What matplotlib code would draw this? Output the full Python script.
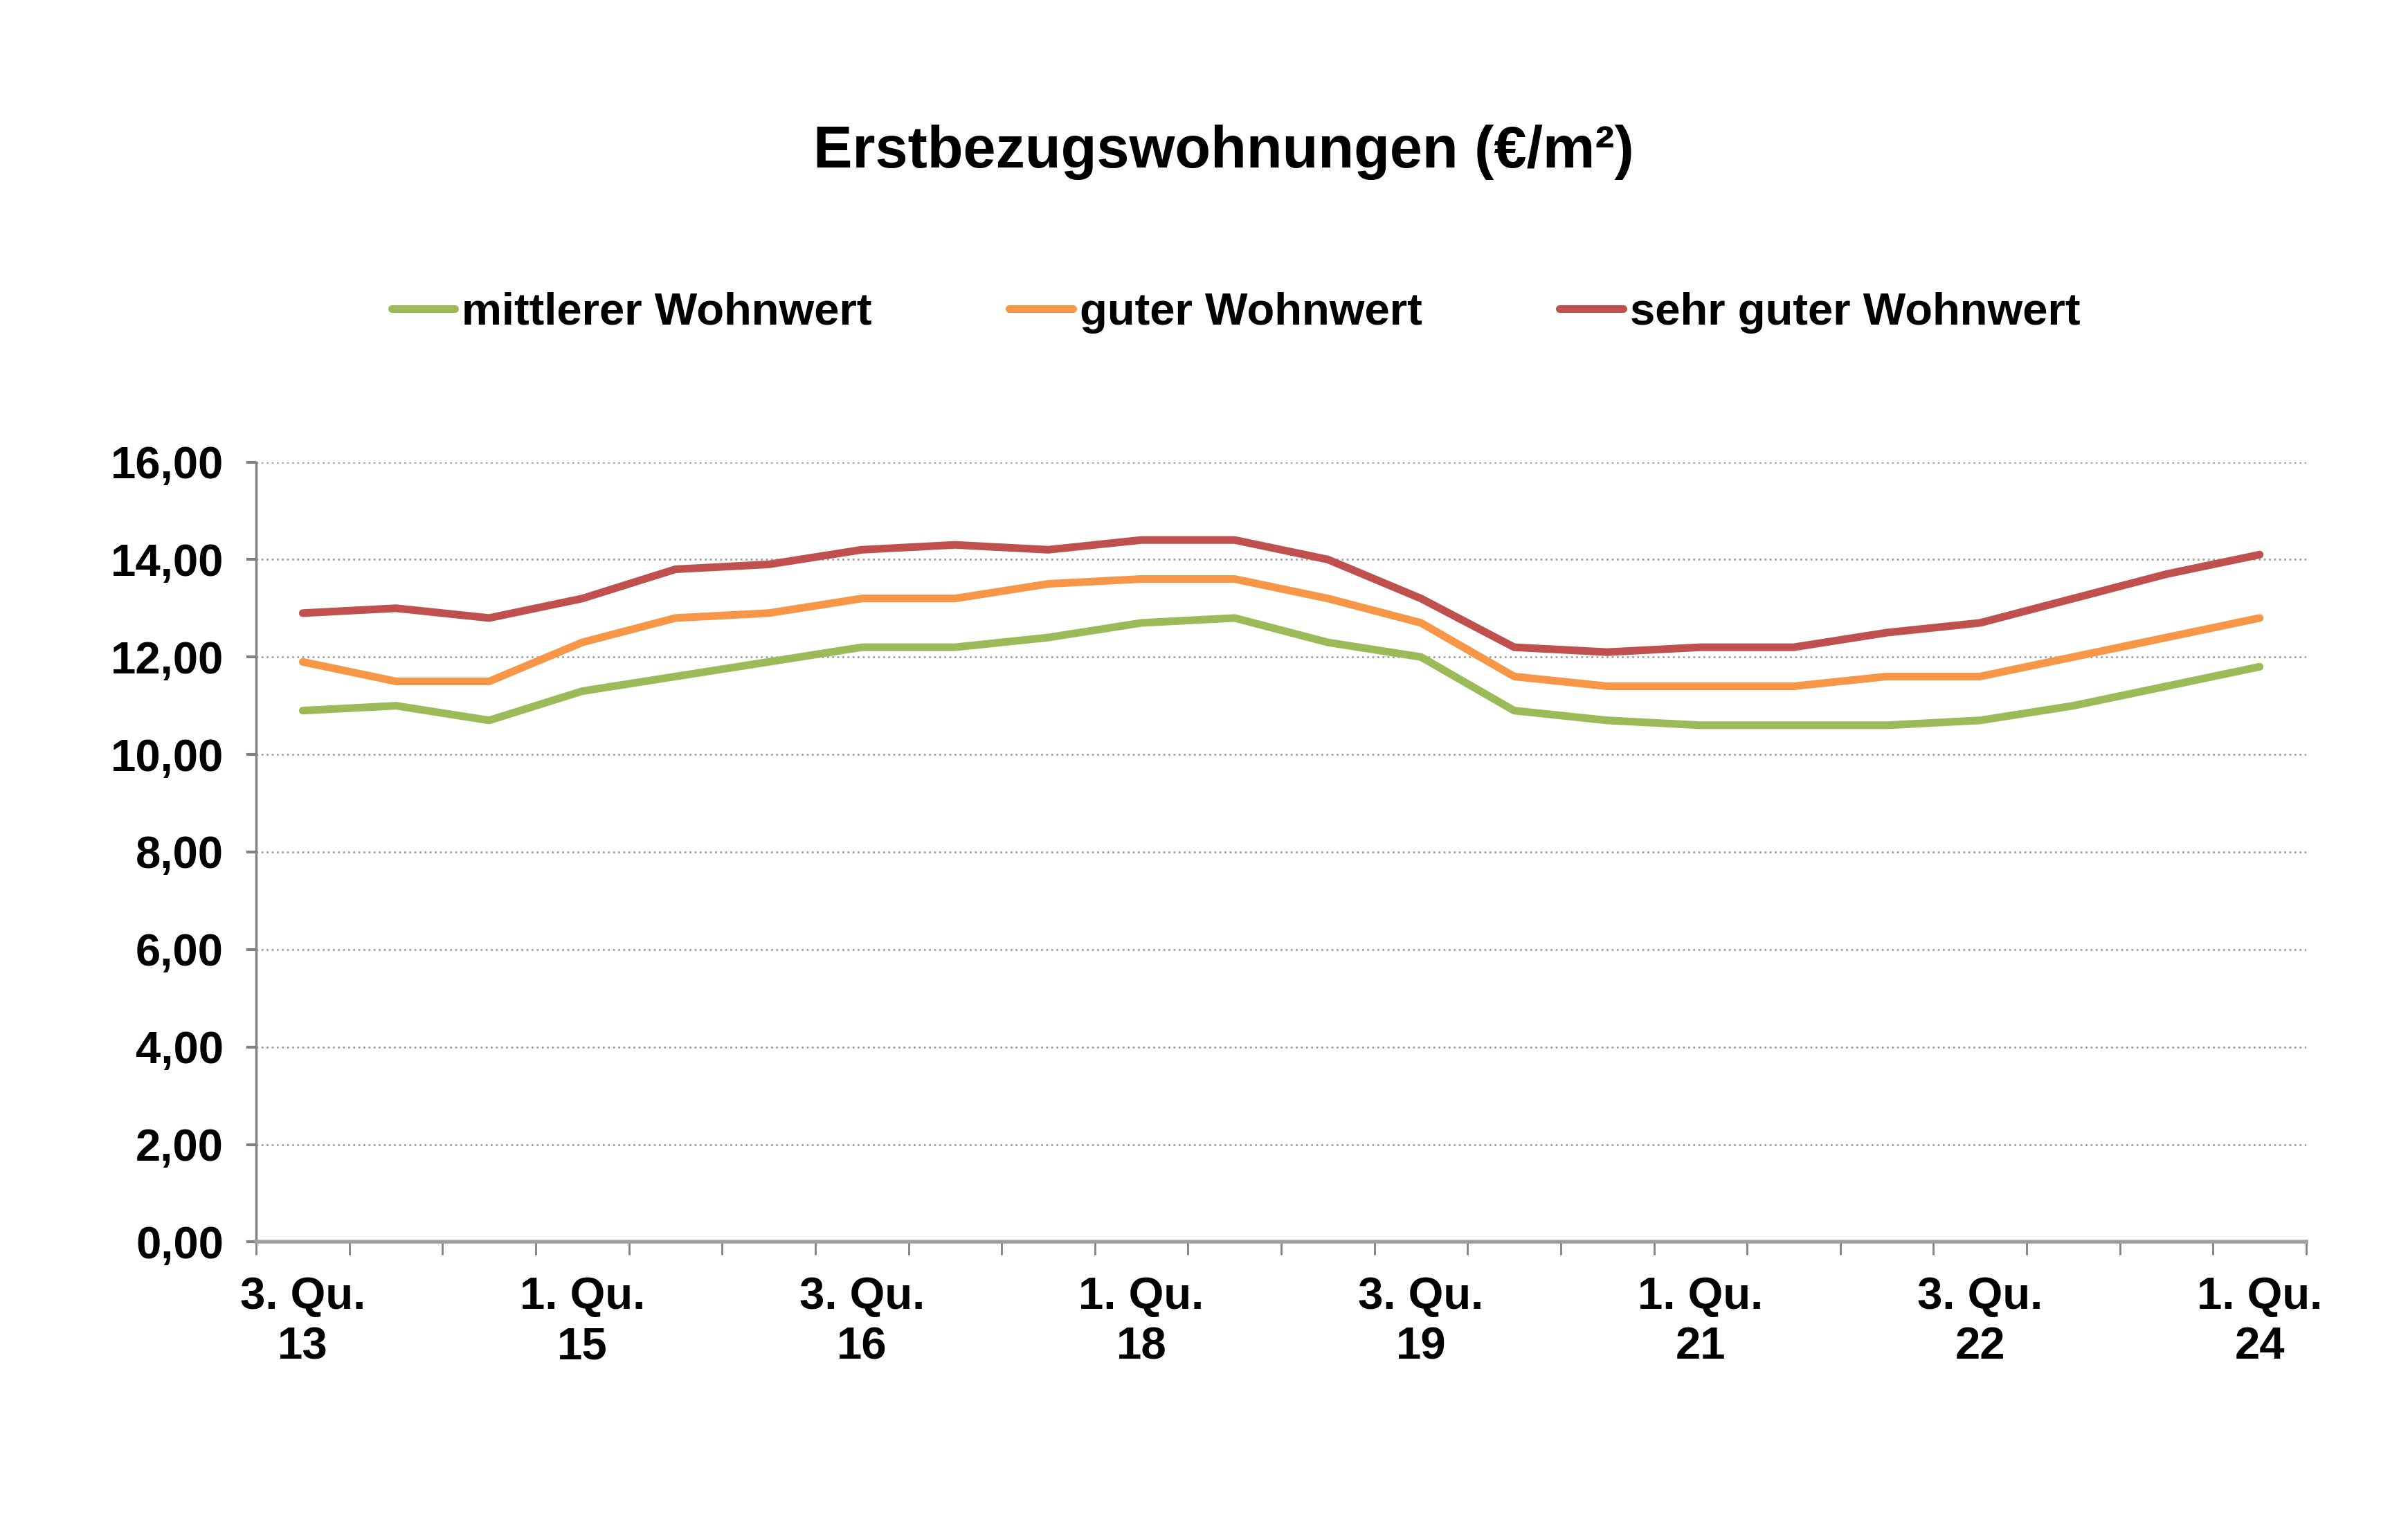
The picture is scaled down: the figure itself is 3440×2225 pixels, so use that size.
import numpy as np
import matplotlib.pyplot as plt
from matplotlib.ticker import FuncFormatter

plt.rcParams['font.family'] = ['Liberation Sans', 'DejaVu Sans']
plt.rcParams['font.weight'] = 'bold'

# Halbjahre 3. Qu. 13 bis 1. Qu. 24
perioden = ['3. Qu.\n13', '1. Qu.\n14', '3. Qu.\n14', '1. Qu.\n15', '3. Qu.\n15', '1. Qu.\n16',
            '3. Qu.\n16', '1. Qu.\n17', '3. Qu.\n17', '1. Qu.\n18', '3. Qu.\n18', '1. Qu.\n19',
            '3. Qu.\n19', '1. Qu.\n20', '3. Qu.\n20', '1. Qu.\n21', '3. Qu.\n21', '1. Qu.\n22',
            '3. Qu.\n22', '1. Qu.\n23', '3. Qu.\n23', '1. Qu.\n24']

mittlerer = [10.9, 11.0, 10.7, 11.3, 11.6, 11.9, 12.2, 12.2, 12.4, 12.7, 12.8,
             12.3, 12.0, 10.9, 10.7, 10.6, 10.6, 10.6, 10.7, 11.0, 11.4, 11.8]
guter = [11.9, 11.5, 11.5, 12.3, 12.8, 12.9, 13.2, 13.2, 13.5, 13.6, 13.6,
         13.2, 12.7, 11.6, 11.4, 11.4, 11.4, 11.6, 11.6, 12.0, 12.4, 12.8]
sehr_guter = [12.9, 13.0, 12.8, 13.2, 13.8, 13.9, 14.2, 14.3, 14.2, 14.4, 14.4,
              14.0, 13.2, 12.2, 12.1, 12.2, 12.2, 12.5, 12.7, 13.2, 13.7, 14.1]

serien = [('mittlerer Wohnwert', mittlerer, '#9BBB59'),
          ('guter Wohnwert', guter, '#F79646'),
          ('sehr guter Wohnwert', sehr_guter, '#C0504D')]

fig = plt.figure(figsize=(34.4, 22.25), dpi=100)
ax = fig.add_axes([0.1076, 0.1935, 0.861, 0.5065])

x = np.arange(len(perioden))
for name, werte, farbe in serien:
    ax.plot(x, werte, color=farbe, lw=8, label=name, solid_capstyle='round')

ax.set_xlim(-0.5, len(perioden) - 0.5)
ax.set_ylim(0, 16)
ax.set_yticks(np.arange(0, 17, 2))
ax.yaxis.set_major_formatter(FuncFormatter(lambda v, p: f'{v:.2f}'.replace('.', ',')))

# Beschriftung jede dritte Periode, Striche an den Kategoriegrenzen
ax.set_xticks(x[::3])
ax.set_xticklabels([perioden[i] for i in x[::3]], linespacing=1.25)
ax.set_xticks(np.arange(-0.5, len(perioden)), minor=True)
ax.tick_params(axis='x', which='major', length=0, pad=36, labelsize=47)
ax.tick_params(axis='x', which='minor', length=14, width=2, color='#808080', direction='out')
ax.tick_params(axis='y', length=10, width=3, color='#808080', pad=24, labelsize=47)

ax.grid(axis='y', color='#a0a0a0', ls=':', lw=2)
ax.set_axisbelow(True)
for s in ['top', 'right']:
    ax.spines[s].set_visible(False)
ax.spines['left'].set_color('#808080')
ax.spines['left'].set_linewidth(2.5)
ax.spines['bottom'].set_color('#a0a0a0')
ax.spines['bottom'].set_linewidth(4)

fig.text(0.514, 0.901, 'Erstbezugswohnungen (€/m²)', ha='center', va='center',
         fontsize=61, fontweight='bold')

fig.legend(loc='center', bbox_to_anchor=(0.519, 0.797), ncol=3, frameon=False,
           fontsize=47, handlelength=1.4, handletextpad=0.15, columnspacing=3.05)

fig.savefig('out.png', dpi=100)
